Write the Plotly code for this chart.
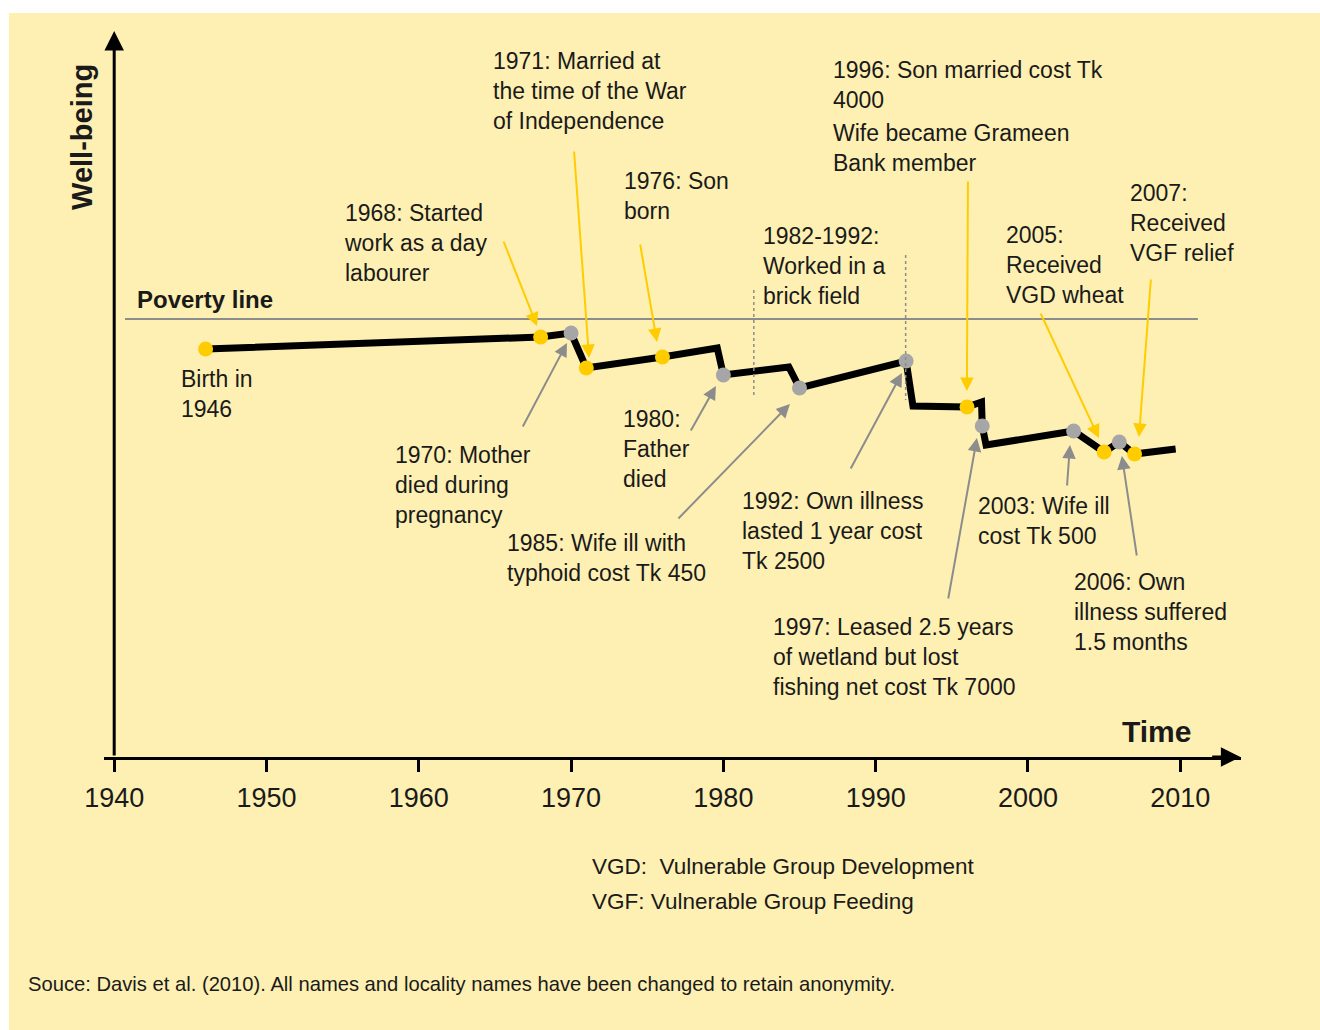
import plotly.graph_objects as go

# well-being path (year, level); corner points have no marker
years = [1946, 1968, 1970, 1971, 1976, 1979.6, 1980, 1984.3, 1985, 1992, 1992.45,
         1996, 1996.95, 1997, 1997.25, 2003, 2005, 2006, 2007, 2009.7]
wellbeing = [40.8, 42.0, 42.4, 38.9, 40.0, 40.9, 38.2, 39.0, 36.9, 39.6, 35.1,
             35.0, 35.5, 33.1, 31.2, 32.6, 30.5, 31.5, 30.3, 30.8]

# events
pos_years = [1946, 1968, 1971, 1976, 1996, 2005, 2007]
pos_levels = [40.8, 42.0, 38.9, 40.0, 35.0, 30.5, 30.3]
neg_years = [1970, 1980, 1985, 1992, 1997, 2003, 2006]
neg_levels = [42.4, 38.2, 36.9, 39.6, 33.1, 32.6, 31.5]

poverty_level = 43.8
tick_years = [1940, 1950, 1960, 1970, 1980, 1990, 2000, 2010]

YELLOW = "#FFCC00"
GREY = "#A6A6A6"
ARROW_GREY = "#8C8C8C"
BG = "#FEF0B2"
FONT = "Liberation Sans"
TXT = "#1a1a1a"

# labels: (text, x year, top level)
labels = [
    ("1968: Started<br>work as a day<br>labourer", 1954.96, 55.9),
    ("1971: Married at<br>the time of the War<br>of Independence", 1964.74, 71.1),
    ("1976: Son<br>born", 1973.34, 59.1),
    ("1982-1992:<br>Worked in a<br>brick field", 1982.47, 53.6),
    ("1996: Son married cost Tk<br>4000", 1987.06, 70.2),
    ("Wife became Grameen<br>Bank member", 1987.06, 63.9),
    ("2007:<br>Received<br>VGF relief", 2006.56, 57.9),
    ("2005:<br>Received<br>VGD wheat", 1998.42, 53.7),
    ("Birth in<br>1946", 1944.26, 39.3),
    ("1970: Mother<br>died during<br>pregnancy", 1958.31, 31.7),
    ("1980:<br>Father<br>died", 1973.27, 35.3),
    ("1985: Wife ill with<br>typhoid cost Tk 450", 1965.66, 22.9),
    ("1992: Own illness<br>lasted 1 year cost<br>Tk 2500", 1981.08, 27.1),
    ("2003: Wife ill<br>cost Tk 500", 1996.59, 26.6),
    ("2006: Own<br>illness suffered<br>1.5 months", 2002.89, 19.0),
    ("1997: Leased 2.5 years<br>of wetland but lost<br>fishing net cost Tk 7000", 1983.13, 14.5),
]

# arrows: (tail x, tail y, head x, head y)
yellow_arrows = [
    (1965.53, 51.7, 1967.76, 43.1),
    (1970.19, 60.7, 1971.18, 39.9),
    (1974.52, 51.4, 1975.64, 41.5),
    (1996.06, 57.7, 1995.99, 36.6),
    (2000.79, 44.5, 2004.66, 31.9),
    (2008.08, 47.9, 2007.29, 32.0),
]
grey_arrows = [
    (1966.78, 32.9, 1969.73, 41.4),
    (1977.81, 32.5, 1979.51, 37.1),
    (1976.95, 23.7, 1984.37, 35.3),
    (1988.31, 28.7, 1991.73, 38.4),
    (1994.75, 15.7, 1996.65, 31.9),
    (2002.56, 27.0, 2002.76, 31.2),
    (2007.16, 20.0, 2006.17, 30.1),
]

fig = go.Figure()
fig.add_trace(go.Scatter(x=years, y=wellbeing, mode="lines",
                         line=dict(color="black", width=7), hoverinfo="skip"))
fig.add_trace(go.Scatter(x=pos_years, y=pos_levels, mode="markers",
                         marker=dict(color=YELLOW, size=15)))
fig.add_trace(go.Scatter(x=neg_years, y=neg_levels, mode="markers",
                         marker=dict(color=GREY, size=15)))

shapes = [
    dict(type="rect", xref="paper", yref="paper", x0=-0.0836, x1=1.08, y0=-0.39, y1=1.0234,
         fillcolor=BG, line_width=0, layer="below"),
    dict(type="line", x0=1940.71, x1=2011.16, y0=poverty_level, y1=poverty_level,
         line=dict(color="#8C8C8C", width=2)),
    dict(type="line", x0=1982.0, x1=1982.0, y0=46.7, y1=35.9,
         line=dict(color="#8C8C8C", width=1.5, dash="dot")),
    dict(type="line", x0=1991.97, x1=1991.97, y0=50.2, y1=35.7,
         line=dict(color="#8C8C8C", width=1.5, dash="dot")),
]

ann = []
for t, x, y in labels:
    ann.append(dict(text=t, x=x, y=y, xanchor="left", yanchor="top", align="left",
                    showarrow=False, font=dict(size=23, color=TXT, family=FONT)))
for arrows, col in ((yellow_arrows, YELLOW), (grey_arrows, ARROW_GREY)):
    for ax_, ay_, hx, hy in arrows:
        ann.append(dict(text="", x=hx, y=hy, ax=ax_, ay=ay_, axref="x", ayref="y",
                        showarrow=True, arrowhead=2, arrowsize=1.35, arrowwidth=2,
                        arrowcolor=col, standoff=0))
# axis arrows
ann.append(dict(text="", x=1940, y=72.6, ax=1940, ay=0, axref="x", ayref="y",
                showarrow=True, arrowhead=2, arrowsize=1.3, arrowwidth=3,
                arrowcolor="black", standoff=0))
ann.append(dict(text="", x=2013.95, y=0, ax=2012, ay=0, axref="x", ayref="y",
                showarrow=True, arrowhead=2, arrowsize=1.3, arrowwidth=3,
                arrowcolor="black", standoff=0))
ann += [
    dict(text="<b>Poverty line</b>", x=1941.37, y=45.8, xanchor="left", yanchor="middle",
         showarrow=False, font=dict(size=24, color=TXT, family=FONT)),
    dict(text="<b>Time</b>", x=2006.04, y=2.6, xanchor="left", yanchor="middle",
         showarrow=False, font=dict(size=30, color=TXT, family=FONT)),
    dict(text="<b>Well-being</b>", xref="paper", yref="paper", x=-0.0194, y=0.8528,
         xanchor="center", yanchor="middle",
         textangle=-90, showarrow=False, font=dict(size=29, color=TXT, family=FONT)),
    dict(text="VGD:  Vulnerable Group Development", xref="paper", yref="paper",
         x=0.4274, y=-0.1513, xanchor="left", yanchor="middle", showarrow=False,
         font=dict(size=22.5, color=TXT, family=FONT)),
    dict(text="VGF: Vulnerable Group Feeding", xref="paper", yref="paper",
         x=0.4274, y=-0.1981, xanchor="left", yanchor="middle", showarrow=False,
         font=dict(size=22.5, color=TXT, family=FONT)),
    dict(text="Souce: Davis et al. (2010). All names and locality names have been changed to retain anonymity.",
         xref="paper", yref="paper", x=-0.0686, y=-0.3122, xanchor="left", yanchor="middle",
         showarrow=False, font=dict(size=20.2, color=TXT, family=FONT)),
]

fig.update_layout(
    width=1320, height=1030,
    margin=dict(l=104, r=79, t=30, b=273),
    paper_bgcolor="white", plot_bgcolor="rgba(0,0,0,0)",
    showlegend=False,
    shapes=shapes, annotations=ann,
    xaxis=dict(range=[1939.33, 2013.99], tickvals=tick_years, showgrid=False, zeroline=False,
               showline=True, linecolor="black", linewidth=3, ticks="outside",
               ticklen=12, tickwidth=3, tickcolor="black", ticklabelstandoff=3,
               tickfont=dict(size=27, color=TXT, family=FONT)),
    yaxis=dict(range=[0, 72.7], showgrid=False, zeroline=False, showline=False,
               showticklabels=False, ticks=""),
)

# drop the default body margin so the figure fills the window exactly
fig.write_html("out.html", config={"displayModeBar": False},
               post_script="document.body.style.margin='0';document.body.style.overflow='hidden';")
